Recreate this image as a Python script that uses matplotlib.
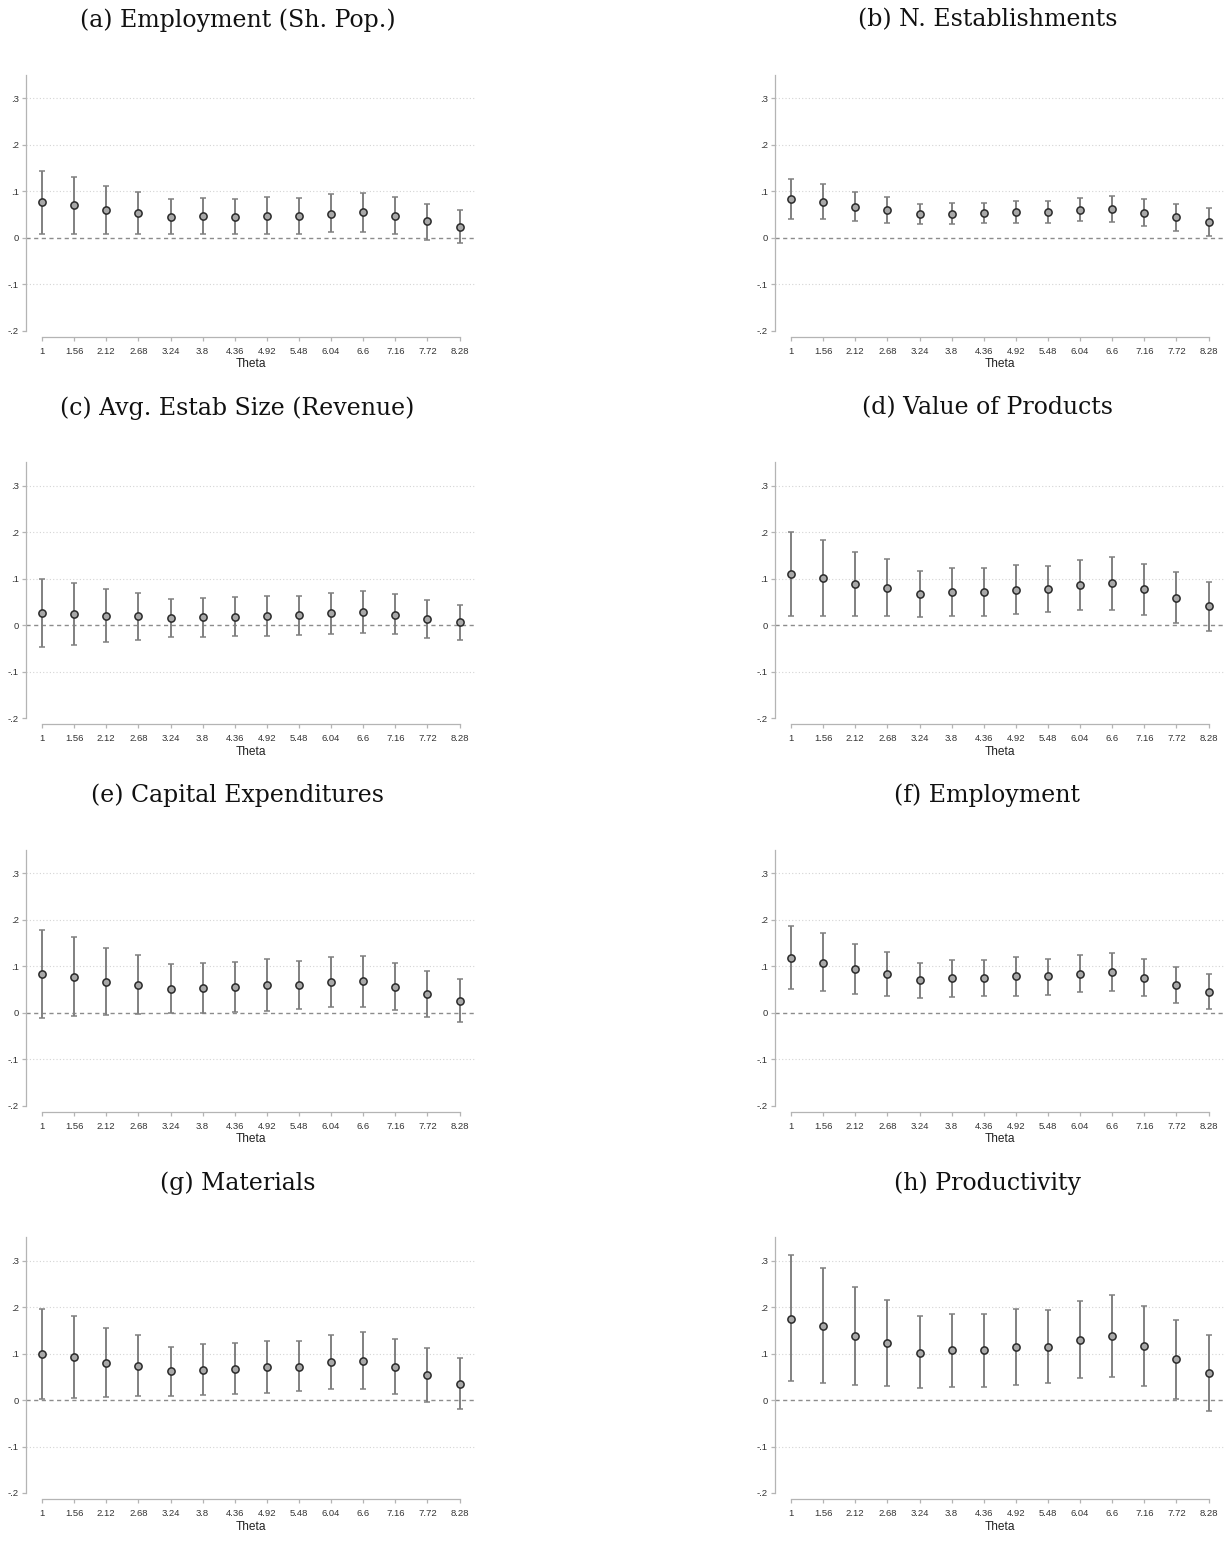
import matplotlib
matplotlib.use("Agg")
import matplotlib.pyplot as plt

# theta grid and panel titles
theta = [1, 1.56, 2.12, 2.68, 3.24, 3.8, 4.36, 4.92, 5.48, 6.04, 6.6, 7.16, 7.72, 8.28]
theta_labels = ["1", "1.56", "2.12", "2.68", "3.24", "3.8", "4.36", "4.92",
                "5.48", "6.04", "6.6", "7.16", "7.72", "8.28"]
titles = ["(a) Employment (Sh. Pop.)", "(b) N. Establishments",
          "(c) Avg. Estab Size (Revenue)", "(d) Value of Products",
          "(e) Capital Expenditures", "(f) Employment",
          "(g) Materials", "(h) Productivity"]

# point estimates and 95% CI bounds
est_a = [0.076, 0.070, 0.060, 0.053, 0.045, 0.046, 0.045, 0.047, 0.047, 0.052, 0.055, 0.047, 0.035, 0.024]
lo_a = [0.009, 0.009, 0.009, 0.009, 0.007, 0.008, 0.008, 0.008, 0.009, 0.012, 0.013, 0.007, -0.004, -0.012]
hi_a = [0.144, 0.131, 0.111, 0.099, 0.083, 0.085, 0.084, 0.087, 0.085, 0.093, 0.096, 0.087, 0.073, 0.060]

est_b = [0.083, 0.077, 0.067, 0.060, 0.050, 0.052, 0.053, 0.056, 0.055, 0.060, 0.061, 0.054, 0.044, 0.034]
lo_b = [0.041, 0.040, 0.035, 0.032, 0.029, 0.030, 0.031, 0.032, 0.032, 0.035, 0.033, 0.025, 0.014, 0.004]
hi_b = [0.127, 0.116, 0.098, 0.088, 0.073, 0.075, 0.075, 0.079, 0.078, 0.085, 0.090, 0.083, 0.073, 0.064]

est_c = [0.025, 0.023, 0.020, 0.019, 0.016, 0.017, 0.018, 0.019, 0.021, 0.025, 0.027, 0.022, 0.014, 0.006]
lo_c = [-0.048, -0.043, -0.036, -0.032, -0.026, -0.026, -0.024, -0.024, -0.022, -0.019, -0.017, -0.020, -0.027, -0.032]
hi_c = [0.099, 0.090, 0.077, 0.069, 0.057, 0.059, 0.060, 0.063, 0.063, 0.069, 0.074, 0.066, 0.054, 0.043]

est_d = [0.110, 0.101, 0.088, 0.080, 0.067, 0.070, 0.072, 0.076, 0.077, 0.086, 0.090, 0.077, 0.059, 0.041]
lo_d = [0.019, 0.019, 0.019, 0.019, 0.017, 0.019, 0.020, 0.024, 0.027, 0.032, 0.033, 0.022, 0.004, -0.012]
hi_d = [0.200, 0.183, 0.158, 0.141, 0.117, 0.122, 0.123, 0.130, 0.127, 0.140, 0.147, 0.132, 0.113, 0.092]

est_e = [0.083, 0.077, 0.067, 0.060, 0.051, 0.054, 0.055, 0.059, 0.059, 0.066, 0.068, 0.056, 0.041, 0.025]
lo_e = [-0.011, -0.008, -0.005, -0.003, -0.001, 0.000, 0.001, 0.003, 0.007, 0.012, 0.013, 0.005, -0.009, -0.021]
hi_e = [0.177, 0.162, 0.139, 0.125, 0.104, 0.108, 0.109, 0.115, 0.112, 0.120, 0.123, 0.107, 0.089, 0.072]

est_f = [0.118, 0.108, 0.093, 0.084, 0.070, 0.074, 0.075, 0.078, 0.078, 0.084, 0.087, 0.075, 0.060, 0.045]
lo_f = [0.050, 0.047, 0.041, 0.037, 0.032, 0.034, 0.035, 0.037, 0.039, 0.044, 0.046, 0.036, 0.021, 0.007]
hi_f = [0.187, 0.172, 0.147, 0.131, 0.108, 0.114, 0.114, 0.119, 0.116, 0.125, 0.129, 0.116, 0.099, 0.083]

est_g = [0.099, 0.092, 0.080, 0.073, 0.062, 0.065, 0.067, 0.072, 0.072, 0.082, 0.085, 0.072, 0.054, 0.035]
lo_g = [0.003, 0.005, 0.006, 0.008, 0.008, 0.011, 0.013, 0.016, 0.019, 0.024, 0.024, 0.012, -0.005, -0.019]
hi_g = [0.196, 0.180, 0.154, 0.139, 0.115, 0.121, 0.122, 0.128, 0.127, 0.140, 0.147, 0.132, 0.112, 0.091]

est_h = [0.175, 0.160, 0.137, 0.123, 0.102, 0.107, 0.107, 0.114, 0.115, 0.130, 0.137, 0.117, 0.088, 0.058]
lo_h = [0.040, 0.037, 0.033, 0.030, 0.026, 0.028, 0.029, 0.033, 0.037, 0.047, 0.049, 0.030, 0.002, -0.024]
hi_h = [0.311, 0.284, 0.243, 0.216, 0.180, 0.185, 0.185, 0.195, 0.193, 0.213, 0.226, 0.203, 0.173, 0.140]

panels = [(est_a, lo_a, hi_a), (est_b, lo_b, hi_b), (est_c, lo_c, hi_c), (est_d, lo_d, hi_d),
          (est_e, lo_e, hi_e), (est_f, lo_f, hi_f), (est_g, lo_g, hi_g), (est_h, lo_h, hi_h)]

W, H = 1225, 1543
fig = plt.figure(figsize=(W / 100, H / 100), dpi=100)
fig.patch.set_facecolor("white")

col_left = [26, 775]
ax_w = 449
row_bottom = [330.7, 718, 1105.7, 1493]
ax_h = 255.7
title_x = [237.5, 987.5]
title_y = [20, 408, 795, 1183]

axis_grey = "#b4b4b4"
tick_font = ["Liberation Sans", "DejaVu Sans"]

for i, (est, lo, hi) in enumerate(panels):
    r, c = divmod(i, 2)
    ax = fig.add_axes([col_left[c] / W, (H - row_bottom[r]) / H, ax_w / W, ax_h / H])

    ax.set_xlim(0.72, 8.55)
    ax.set_ylim(-0.2, 0.35)

    for yv in [-0.1, 0.1, 0.2, 0.3]:
        ax.axhline(yv, color="#d4d4d4", lw=0.8, ls=(0, (1, 2)), zorder=0)
    ax.axhline(0, color="#8c8c8c", lw=1.0, ls=(0, (3, 2.5)), zorder=1)

    yerr = [[e - l for e, l in zip(est, lo)], [h - e for e, h in zip(est, hi)]]
    ax.errorbar(theta, est, yerr=yerr, fmt="o", ms=5.2, mfc="#a8a8a8", mec="#2a2a2a",
                mew=1.1, ecolor="#808080", elinewidth=1.4, capsize=2.5, capthick=1.1,
                zorder=3)

    for side in ["top", "right"]:
        ax.spines[side].set_visible(False)
    ax.spines["left"].set_color(axis_grey)
    ax.spines["left"].set_linewidth(0.9)
    ax.spines["bottom"].set_color(axis_grey)
    ax.spines["bottom"].set_linewidth(0.9)
    ax.spines["bottom"].set_position(("outward", 4.5))
    ax.spines["bottom"].set_bounds(theta[0], theta[-1])

    ax.set_yticks([-0.2, -0.1, 0, 0.1, 0.2, 0.3])
    ax.set_yticklabels(["-.2", "-.1", "0", ".1", ".2", ".3"])
    ax.set_xticks(theta)
    ax.set_xticklabels(theta_labels)
    ax.tick_params(axis="both", colors=axis_grey, labelcolor="#333333",
                   labelsize=6.8, width=0.9)
    ax.tick_params(axis="y", length=3, pad=2)
    ax.tick_params(axis="x", length=3, pad=4)
    for lab in ax.get_xticklabels() + ax.get_yticklabels():
        lab.set_fontfamily(tick_font)

    ax.set_xlabel("Theta", fontsize=8.6, family=tick_font, color="#222222", labelpad=2)
    ax.set_facecolor("white")

    fig.text(title_x[c] / W, 1 - title_y[r] / H, titles[i], ha="center", va="center",
             fontsize=17, family=["DejaVu Serif"], color="#111111")

fig.savefig("out.png", dpi=100, facecolor="white")
